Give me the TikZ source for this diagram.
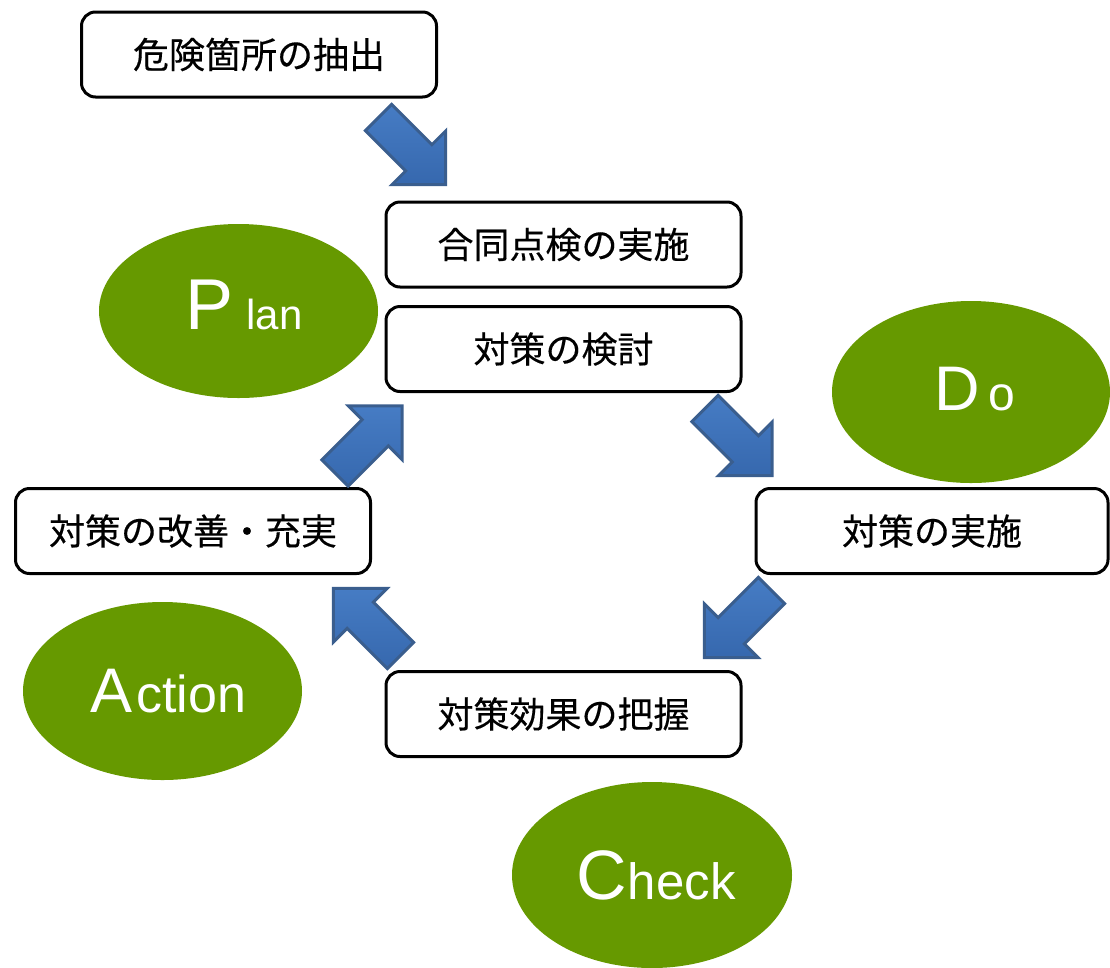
\documentclass[tikz,border=0pt]{standalone}
\usepackage{fontspec}
\newfontfamily\jpfont[FakeBold=0.3]{Noto Sans CJK JP}
\newfontfamily\latfont{Liberation Sans}
\definecolor{pdcagreen}{RGB}{102,153,0}
\definecolor{arrowlight}{RGB}{70,124,196}
\definecolor{arrowdark}{RGB}{54,104,174}
\definecolor{arrowedge}{RGB}{58,94,142}
\tikzset{
  stepbox/.style={draw=black, line width=3pt, rounded corners=14pt, fill=white,
    minimum width=355pt, minimum height=85pt, inner sep=0pt,
    font=\jpfont\fontsize{36}{40}\selectfont},
  phase/.style={ellipse, fill=pdcagreen, draw=none, inner sep=0pt},
  phaselabel/.style={anchor=base, text=white, inner sep=0pt, font=\latfont},
  blockarrow/.pic={
    \draw[line width=3pt, draw=arrowedge, line join=miter, top color=arrowlight, bottom color=arrowdark, shading angle=0]
      (0,-18.5) -- (57,-18.5) -- (57,-38) -- (95,0) -- (57,38) -- (57,18.5) -- (0,18.5) -- cycle;
  }
}
\usetikzlibrary{shapes.geometric}
\begin{document}
\begin{tikzpicture}[x=1pt,y=-1pt]
\useasboundingbox (0,0) rectangle (1110,967);
% ellipses
\node[phase, minimum width=279pt, minimum height=174pt] (plan) at (238.5,311) {};
\node[phase, minimum width=278pt, minimum height=182pt] (do) at (971,392) {};
\node[phase, minimum width=279pt, minimum height=178pt] (action) at (162.5,691) {};
\node[phase, minimum width=280pt, minimum height=186pt] (check) at (652,875) {};
\node[phaselabel] (planlabel) at (244,329) {\fontsize{72}{72}\selectfont P\hspace{13pt}\fontsize{42}{42}\selectfont lan};
\node[phaselabel] (dolabel) at (975,410) {\fontsize{63}{63}\selectfont D\hspace{9pt}\fontsize{48}{48}\selectfont o};
\node[phaselabel] (actionlabel) at (168,712) {\fontsize{63}{63}\selectfont A\hspace{4pt}\fontsize{52}{52}\selectfont ction};
\node[phaselabel] (checklabel) at (656,899) {\fontsize{70}{70}\selectfont C\hspace{1pt}\fontsize{51}{51}\selectfont heck};
% boxes
\node[stepbox] (extract) at (259,54.5) {危険箇所の抽出};
\node[stepbox] (inspect) at (563.5,244.5) {合同点検の実施};
\node[stepbox] (study) at (563.5,349) {対策の検討};
\node[stepbox, minimum width=352pt] (implement) at (932,531) {対策の実施};
\node[stepbox] (assess) at (563.5,714) {対策効果の把握};
\node[stepbox] (improve) at (193,531) {対策の改善・充実};
% block arrows
\pic[rotate=-45] at (378.5,117.5) {blockarrow};
\pic[rotate=-45] at (705,408.5) {blockarrow};
\pic[rotate=-135] at (771.5,590.5) {blockarrow};
\pic[rotate=135] at (400.5,655.5) {blockarrow};
\pic[rotate=45] at (335,473) {blockarrow};
\end{tikzpicture}
\end{document}
